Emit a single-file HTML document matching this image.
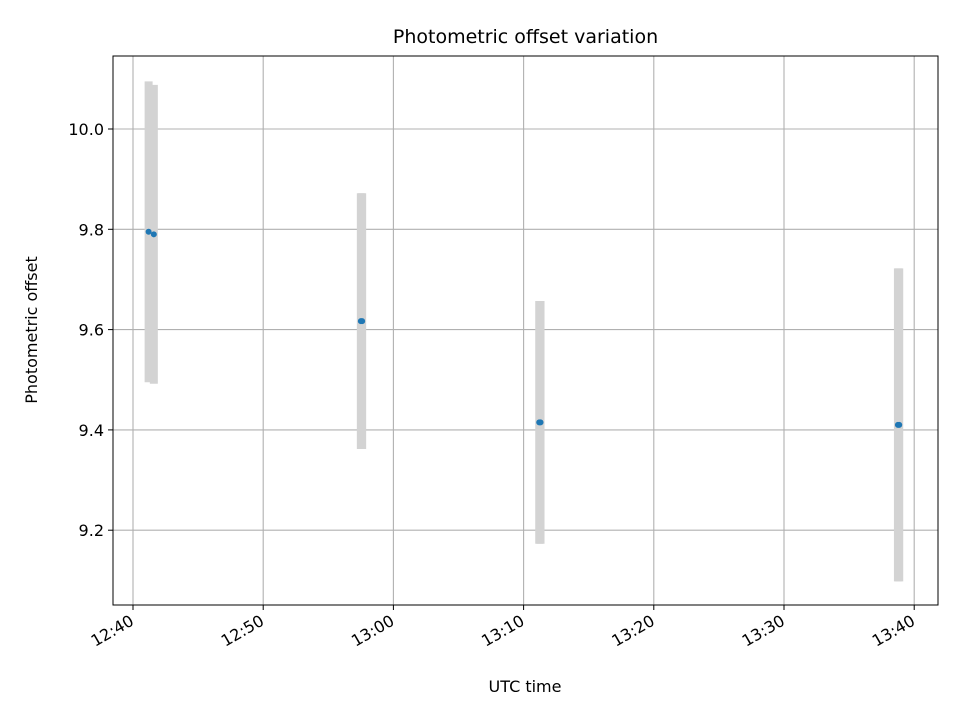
<!DOCTYPE html>
<html><head><meta charset="utf-8"><style>body{margin:0;background:#fff}svg text{font-family:"DejaVu Sans","Liberation Sans",sans-serif;fill:#000}</style></head>
<body>
<svg id="c" width="960" height="720" viewBox="0 0 960 720"></svg>
<script>
const times=[1.2,1.6,17.5,17.6,31.2,31.3,58.75,58.85];
const values=[9.795,9.79,9.617,9.617,9.415,9.415,9.41,9.41];
const errors=[0.3,0.298,0.255,0.255,0.242,0.242,0.312,0.312];
const yTicks=[9.2,9.4,9.6,9.8,10.0];
const xTicks=[0,10,20,30,40,50,60];
const xTickLabels=["12:40","12:50","13:00","13:10","13:20","13:30","13:40"];
const L=113,R=938,T=56,B=605;
const xs=t=>133+t*13.02;
const ys=v=>129+(10.0-v)*501.5;
const svg=document.getElementById('c');
const NS='http://www.w3.org/2000/svg';
function mk(tag,attrs,parent){const e=document.createElementNS(NS,tag);for(const k in attrs)e.setAttribute(k,attrs[k]);(parent||svg).appendChild(e);return e;}
let e;
yTicks.forEach(v=>{const y=ys(v);
e=mk('line',{x1:L,x2:R,y1:y,y2:y,stroke:'#b0b0b0','stroke-width':1.1});
e=mk('line',{x1:L-5,x2:L,y1:y,y2:y,stroke:'#000','stroke-width':1});
e=mk('text',{x:L-9,y:y+6,'text-anchor':'end','font-size':16});e.textContent=v.toFixed(1);});
xTicks.forEach((t,i)=>{const x=xs(t);
e=mk('line',{x1:x,x2:x,y1:T,y2:B,stroke:'#b0b0b0','stroke-width':1.1});
e=mk('line',{x1:x,x2:x,y1:B,y2:B+5,stroke:'#000','stroke-width':1});
e=mk('text',{x:x+2,y:B+19,'text-anchor':'end','font-size':16,transform:`rotate(-30 ${x+2} ${B+19})`});e.textContent=xTickLabels[i];});
times.forEach((t,i)=>{const x=xs(t);
e=mk('line',{x1:x,x2:x,y1:ys(values[i]+errors[i]),y2:ys(values[i]-errors[i]),stroke:'#d3d3d3','stroke-width':8});});
times.forEach((t,i)=>{
e=mk('circle',{cx:xs(t),cy:ys(values[i]),r:3,fill:'#1f77b4'});});
e=mk('rect',{x:L,y:T,width:R-L,height:B-T,fill:'none',stroke:'#000','stroke-width':1});
e=mk('text',{x:(L+R)/2,y:43,'text-anchor':'middle','font-size':19});e.textContent='Photometric offset variation';
e=mk('text',{x:525,y:692,'text-anchor':'middle','font-size':16});e.textContent='UTC time';
e=mk('text',{x:37,y:330,'text-anchor':'middle','font-size':16,transform:'rotate(-90 37 330)'});e.textContent='Photometric offset';
</script>
</body></html>
